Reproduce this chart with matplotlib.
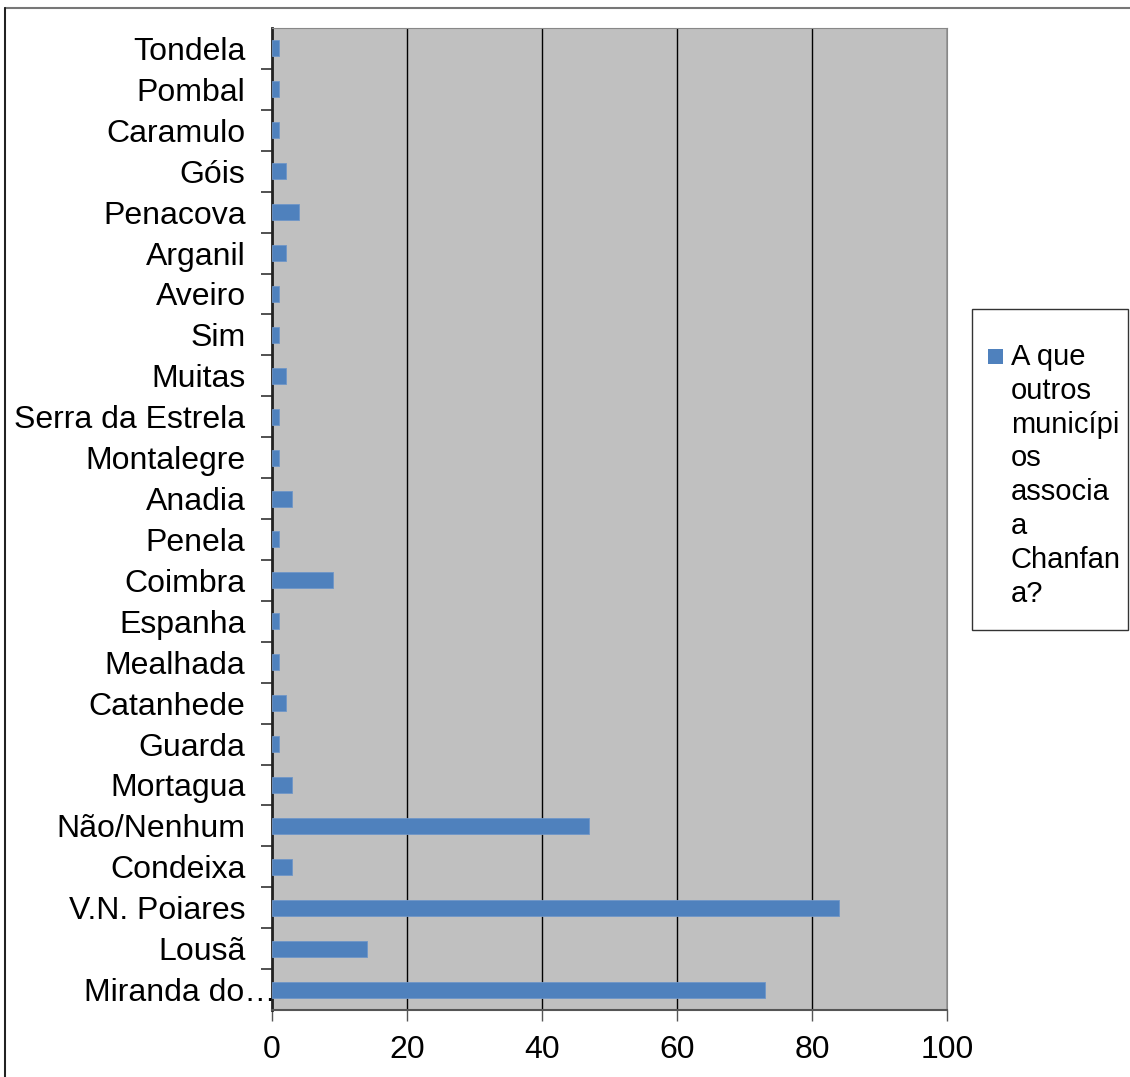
import matplotlib.pyplot as plt
import matplotlib.transforms as mtransforms
from matplotlib.lines import Line2D
from matplotlib.patches import Rectangle

plt.rcParams['font.family'] = ['Liberation Sans', 'DejaVu Sans']

# bottom-to-top order, as drawn
places = ["Miranda do…", "Lousã", "V.N. Poiares", "Condeixa", "Não/Nenhum",
          "Mortagua", "Guarda", "Catanhede", "Mealhada", "Espanha", "Coimbra",
          "Penela", "Anadia", "Montalegre", "Serra da Estrela", "Muitas", "Sim",
          "Aveiro", "Arganil", "Penacova", "Góis", "Caramulo", "Pombal", "Tondela"]
counts = [73, 14, 84, 3, 47, 3, 1, 2, 1, 1, 9, 1, 3, 1, 1, 2, 1, 1, 2, 4, 2, 1, 1, 1]
series_name = "A que\noutros\nmunicípi\nos\nassocia\na\nChanfan\na?"
xticks = [0, 20, 40, 60, 80, 100]

bar_color = '#4f81bd'

fig = plt.figure(figsize=(11.3, 10.77), dpi=100)
W, H = 1130, 1077
ax = fig.add_axes([272 / W, 1 - 1010 / H, (947 - 272) / W, (1010 - 28) / H])
ax.set_facecolor('#c0c0c0')

pos = list(range(len(places)))
ax.barh(pos, counts, height=0.39, color=bar_color, edgecolor='#6f96c8',
        linewidth=0.6, zorder=3)

ax.set_xlim(0, 100)
ax.set_ylim(-0.5, len(places) - 0.5)
ax.set_xticks(xticks)
ax.set_xticklabels([str(t) for t in xticks], fontsize=23)
ax.set_yticks(pos)
ax.set_yticklabels(places, fontsize=23)
ax.tick_params(axis='y', length=0, pad=19)
ax.set_yticks([p + 0.5 for p in pos[:-1]], minor=True)
ax.tick_params(axis='y', which='minor', length=8, width=1.2, color='#333333')
ax.tick_params(axis='x', length=8, width=1.0, color='#555555', pad=10)
ax.xaxis.grid(True, color='black', linewidth=1.0, zorder=1)
ax.set_axisbelow(True)

# the truncated first label runs up to the axis line
lab = ax.get_yticklabels()[0]
lab.set_transform(lab.get_transform() + mtransforms.ScaledTranslation(31 / 100, 0, fig.dpi_scale_trans))

ax.spines['left'].set_color('#222222')
ax.spines['left'].set_linewidth(2)
ax.spines['bottom'].set_color('#555555')
ax.spines['bottom'].set_linewidth(1.5)
ax.spines['top'].set_color('#888888')
ax.spines['right'].set_color('#888888')

# legend box, key square aligned with the first line of the wrapped name
fig.patches.append(Rectangle((972 / W, 1 - 630 / H), (1128 - 972) / W, (630 - 309) / H,
                             transform=fig.transFigure, facecolor='white',
                             edgecolor='#333333', linewidth=1.0))
fig.patches.append(Rectangle((988 / W, 1 - 364 / H), 15 / W, 15 / H,
                             transform=fig.transFigure, facecolor=bar_color,
                             edgecolor='none'))
fig.text(1011 / W, 1 - 343 / H, series_name, fontsize=21, va='top', ha='left',
         linespacing=1.265)

# outer chart border (top and left edges only)
fig.lines.append(Line2D([5 / W, 5 / W, 1], [0, 1 - 7.5 / H, 1 - 7.5 / H],
                        transform=fig.transFigure, color='#777777', linewidth=1.5))
fig.lines.append(Line2D([5 / W, 5 / W], [0, 1 - 7.5 / H],
                        transform=fig.transFigure, color='#111111', linewidth=1.2))

fig.savefig('out.png', dpi=100)
